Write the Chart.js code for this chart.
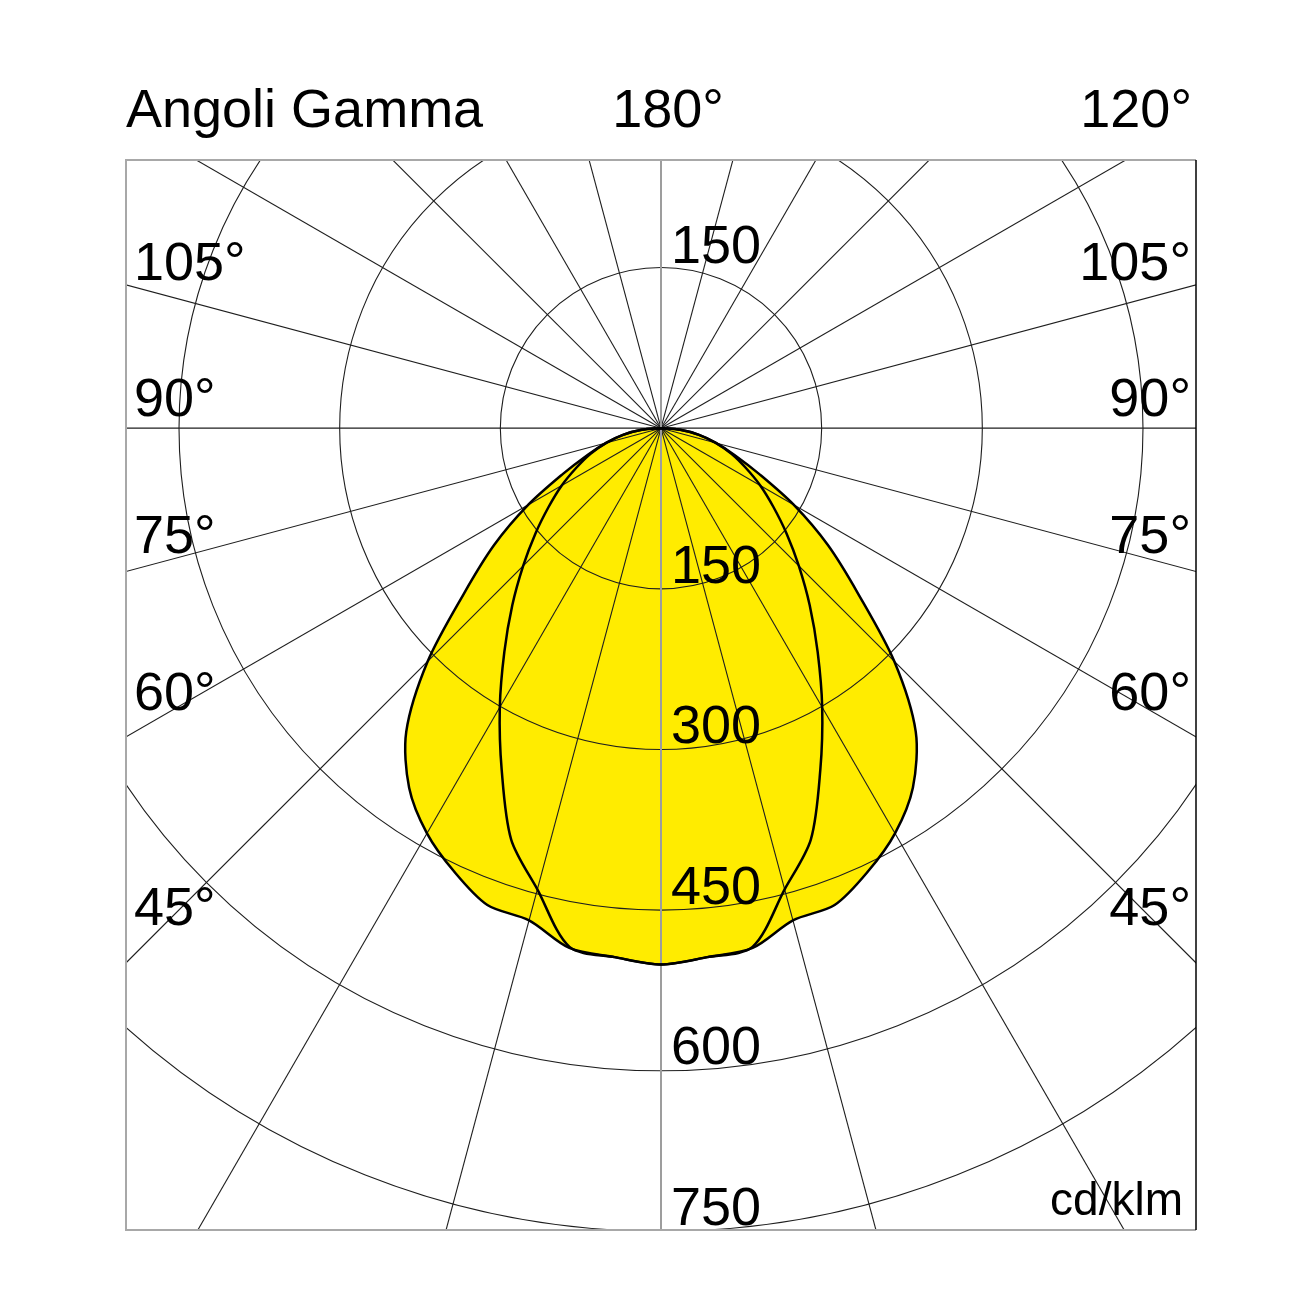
<!DOCTYPE html>
<html>
<head>
<meta charset="utf-8">
<script src="https://cdn.jsdelivr.net/npm/chart.js@4.4.1/dist/chart.umd.min.js"></script>
<style>
  html, body { margin: 0; padding: 0; background: #fff; }
  #wrap { width: 1302px; height: 1302px; }
</style>
</head>
<body>
<div id="wrap"><canvas id="polar" width="1302" height="1302"></canvas></div>
<script>
// gamma angles in degrees (0 = straight down), intensity in cd/klm
const gammaAngles = [0, 5, 10, 15, 20, 25, 30, 35, 40, 45, 50, 55, 60, 65, 70, 75, 80, 85, 90];
const intensityC0C180 = [501, 496, 493, 476, 474, 457, 437, 410, 370, 308, 240, 190, 143, 101, 73, 53, 36, 18, 0];
const intensityC90C270 = [501, 496, 492, 446, 409, 352, 301, 255, 216, 182, 153, 128, 107, 87, 70, 53, 36, 18, 0];

const radialTicks = [150, 300, 450, 600, 750];
const sideAngleLabels = [105, 90, 75, 60, 45];
const spokeStep = 15;

const yellow = '#ffec00';

// symmetric curve: left half (C180 / C270) then right half (C0 / C90)
function toPoints(values) {
  const pts = [];
  for (let i = gammaAngles.length - 1; i >= 0; i--) {
    const g = gammaAngles[i] * Math.PI / 180;
    pts.push({ x: -values[i] * Math.sin(g), y: -values[i] * Math.cos(g) });
  }
  for (let i = 1; i < gammaAngles.length; i++) {
    const g = gammaAngles[i] * Math.PI / 180;
    pts.push({ x: values[i] * Math.sin(g), y: -values[i] * Math.cos(g) });
  }
  return pts;
}

const outer = toPoints(intensityC0C180);
const inner = toPoints(intensityC90C270);

function drawGrid(chart) {
  const { ctx, chartArea: a, scales: { x, y } } = chart;
  const cx = x.getPixelForValue(0), cy = y.getPixelForValue(0);
  const k = x.getPixelForValue(1) - cx;
  ctx.save();
  ctx.beginPath();
  ctx.rect(a.left, a.top, a.right - a.left, a.bottom - a.top);
  ctx.clip();
  ctx.strokeStyle = '#1e1e1e';
  ctx.lineWidth = 1.1;
  radialTicks.forEach(r => {
    ctx.beginPath();
    ctx.arc(cx, cy, r * k, 0, Math.PI * 2);
    ctx.stroke();
  });
  for (let g = 0; g < 360; g += spokeStep) {
    if (g % 180 === 0) continue;
    const t = g * Math.PI / 180;
    ctx.beginPath();
    ctx.moveTo(cx, cy);
    ctx.lineTo(x.getPixelForValue(3000 * Math.sin(t)), y.getPixelForValue(-3000 * Math.cos(t)));
    ctx.stroke();
  }
  // 0 / 180 axis is grey and a bit heavier
  ctx.strokeStyle = '#9d9d9d';
  ctx.lineWidth = 2;
  ctx.beginPath();
  ctx.moveTo(cx, a.top);
  ctx.lineTo(cx, a.bottom);
  ctx.stroke();
  ctx.restore();
}

const gridPlugin = {
  id: 'polarGrid',
  afterDatasetDraw(chart, args) {
    if (args.index === 2) drawGrid(chart);
  },
  afterDraw(chart) {
    const { ctx, chartArea: a, scales: { x, y } } = chart;
    const cx = x.getPixelForValue(0), cy = y.getPixelForValue(0);
    ctx.save();
    // frame
    ctx.lineWidth = 2;
    ctx.strokeStyle = '#a8a8a8';
    ctx.beginPath();
    ctx.moveTo(a.right, a.top); ctx.lineTo(a.left, a.top);
    ctx.lineTo(a.left, a.bottom); ctx.lineTo(a.right, a.bottom);
    ctx.stroke();
    ctx.strokeStyle = '#000';
    ctx.lineWidth = 1.5;
    ctx.beginPath();
    ctx.moveTo(a.right, a.top); ctx.lineTo(a.right, a.bottom);
    ctx.stroke();

    ctx.fillStyle = '#000';
    ctx.font = '54px "Liberation Sans", Arial, sans-serif';
    ctx.textBaseline = 'alphabetic';

    ctx.textAlign = 'left';
    ctx.fillText('Angoli Gamma', a.left, 127);
    ctx.textAlign = 'center';
    ctx.fillText('180°', 668, 127);
    ctx.textAlign = 'right';
    ctx.fillText('120°', 1192, 127);

    // side gamma labels sit just above where the spoke meets the frame
    sideAngleLabels.forEach(g => {
      const t = g * Math.PI / 180;
      const edgeY = cy + (cx - a.left) / Math.tan(t);
      const base = edgeY - (12 + 0.048 * (edgeY - cy));
      ctx.textAlign = 'left';
      ctx.fillText(g + '°', 134, base);
      ctx.textAlign = 'right';
      ctx.fillText(g + '°', 1191, base);
    });

    // radial intensity labels
    ctx.textAlign = 'left';
    ctx.fillText(String(radialTicks[0]), 671, y.getPixelForValue(radialTicks[0]) - 5);
    radialTicks.forEach(r => {
      ctx.fillText(String(r), 671, y.getPixelForValue(-r) - 6);
    });

    ctx.font = '46px "Liberation Sans", Arial, sans-serif';
    ctx.textAlign = 'right';
    ctx.fillText('cd/klm', 1183, 1215);
    ctx.restore();
  }
};

new Chart(document.getElementById('polar'), {
  type: 'line',
  data: {
    datasets: [
      { label: 'C0-C180', data: outer, borderColor: '#000', borderWidth: 2.5, fill: false, tension: 0.3, pointRadius: 0 },
      { label: 'C90-C270', data: inner, borderColor: '#000', borderWidth: 2.5, fill: false, tension: 0.3, pointRadius: 0 },
      { label: 'C0-C180 fill', data: outer, borderColor: 'rgba(0,0,0,0)', borderWidth: 0, backgroundColor: yellow, fill: 'shape', tension: 0.3, pointRadius: 0 },
      { label: 'C90-C270 fill', data: inner, borderColor: 'rgba(0,0,0,0)', borderWidth: 0, backgroundColor: yellow, fill: 'shape', tension: 0.3, pointRadius: 0 }
    ]
  },
  options: {
    responsive: false,
    animation: false,
    devicePixelRatio: 1,
    layout: { padding: { left: 126, top: 160, right: 106, bottom: 72 } },
    plugins: { legend: { display: false }, tooltip: { enabled: false }, title: { display: false } },
    scales: {
      x: { type: 'linear', min: -499.5, max: 499.5, display: false },
      y: { type: 'linear', min: -749, max: 250.5, display: false }
    }
  },
  plugins: [gridPlugin]
});
</script>
</body>
</html>
